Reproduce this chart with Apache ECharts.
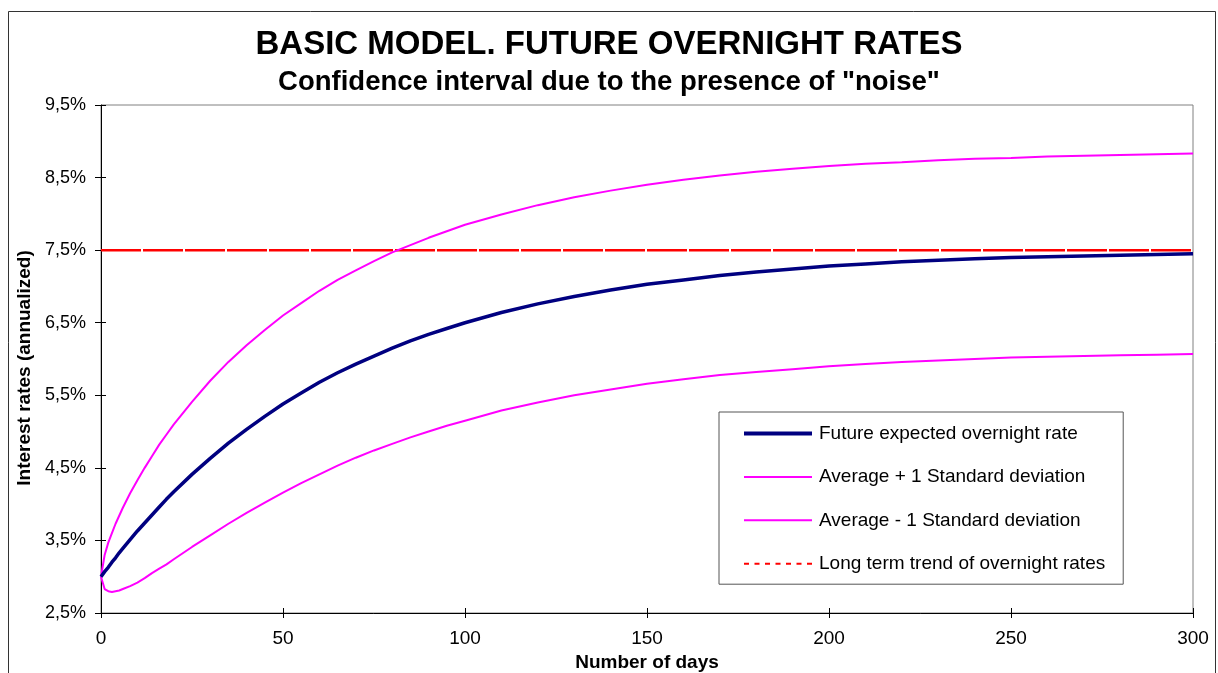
<!DOCTYPE html>
<html>
<head>
<meta charset="utf-8">
<script src="https://cdn.jsdelivr.net/npm/echarts@6/dist/echarts.min.js"></script>
<style>
html,body{margin:0;padding:0;background:#fff;}
#chart{width:1218px;height:673px;}
</style>
</head>
<body>
<div id="chart"></div>
<script>
// ---- data (values in %) ----
const days = [0,1,2,3,4,5,6,8,10,12,14,16,18,20,25,30,35,40,45,50,55,60,65,70,75,80,85,90,95,100,110,120,130,140,150,160,170,180,190,200,210,220,230,240,250,260,270,280,290,300];
const expected = [3.00,3.07,3.13,3.20,3.26,3.33,3.39,3.51,3.63,3.74,3.85,3.96,4.07,4.17,4.41,4.63,4.84,5.03,5.21,5.38,5.53,5.68,5.81,5.93,6.04,6.15,6.25,6.34,6.42,6.50,6.64,6.76,6.86,6.95,7.03,7.09,7.15,7.20,7.24,7.28,7.31,7.34,7.36,7.38,7.40,7.41,7.42,7.43,7.44,7.45];
const upper = [3.00,3.30,3.47,3.60,3.73,3.84,3.95,4.15,4.33,4.50,4.66,4.82,4.96,5.10,5.41,5.70,5.96,6.19,6.40,6.60,6.77,6.94,7.09,7.22,7.35,7.47,7.57,7.67,7.76,7.85,7.99,8.12,8.23,8.32,8.40,8.47,8.53,8.58,8.62,8.66,8.69,8.71,8.74,8.76,8.77,8.79,8.80,8.81,8.82,8.83];
const lower = [3.00,2.83,2.80,2.79,2.80,2.81,2.83,2.87,2.92,2.98,3.05,3.11,3.17,3.24,3.41,3.57,3.73,3.88,4.02,4.16,4.29,4.41,4.53,4.64,4.74,4.83,4.92,5.00,5.08,5.15,5.29,5.40,5.50,5.58,5.66,5.72,5.78,5.82,5.86,5.90,5.93,5.96,5.98,6.00,6.02,6.03,6.04,6.05,6.06,6.07];
const trendDays = [0, 300];
const trend = [7.5, 7.5];
const seriesNames = ['Future expected overnight rate','Average + 1 Standard deviation','Average - 1 Standard deviation','Long term trend of overnight rates'];
const titleText = 'BASIC MODEL. FUTURE OVERNIGHT RATES';
const subtitleText = 'Confidence interval due to the presence of "noise"';
const xName = 'Number of days';
const yName = 'Interest rates (annualized)';

function pairs(xs, ys){ return xs.map((x,i)=>[x, ys[i]]); }

const FONT = '"Liberation Sans", Arial, sans-serif';
const chart = echarts.init(document.getElementById('chart'), null, {renderer:'canvas'});
const yFmt = v => v.toFixed(1).replace('.', ',') + '%';

const iconThick = 'path://M0,0h68v4h-68z';
const iconThin = 'path://M0,0h68v2h-68z';
const iconDash = 'path://M0,0h5v2h-5zM10.5,0h5v2h-5zM21,0h5v2h-5zM31.5,0h5v2h-5zM42,0h5v2h-5zM52.5,0h5v2h-5zM63,0h5v2h-5z';

chart.setOption({
  backgroundColor:'#fff',
  animation:false,
  textStyle:{fontFamily:FONT, color:'#000'},
  graphic:[{
    type:'rect', shape:{x:8.5, y:11.5, width:1207, height:700},
    style:{fill:'none', stroke:'#333', lineWidth:1}, silent:true, z:-1
  }],
  title:[
    {text:titleText, left:'center', top:23, textStyle:{fontFamily:FONT, fontSize:33, fontWeight:'bold', color:'#000'}},
    {text:subtitleText, left:'center', top:63, textStyle:{fontFamily:FONT, fontSize:27.5, fontWeight:'bold', color:'#000'}}
  ],
  grid:{left:101, right:25, top:105, bottom:60, outerBoundsMode:'none', containLabel:false,
        show:true, borderColor:'#808080', borderWidth:1, backgroundColor:'#fff'},
  legend:{
    orient:'vertical', left:719, top:412,
    padding:[12,18,11,25],
    itemWidth:68, itemHeight:16, itemGap:24.4,
    symbolKeepAspect:true,
    backgroundColor:'#fff', borderColor:'#555', borderWidth:1,
    textStyle:{fontFamily:FONT, fontSize:19, color:'#000', padding:[0,0,0,2]},
    data:[
      {name:seriesNames[0], icon:iconThick},
      {name:seriesNames[1], icon:iconThin},
      {name:seriesNames[2], icon:iconThin},
      {name:seriesNames[3], icon:iconDash}
    ]
  },
  xAxis:[{
    type:'value', min:0, max:300, interval:50,
    name:xName, nameLocation:'middle', nameGap:36,
    nameTextStyle:{fontFamily:FONT, fontSize:19, fontWeight:'bold', color:'#000'},
    axisLine:{show:true, onZero:false, lineStyle:{color:'#000', width:1}},
    axisTick:{show:true, inside:false, length:5, lineStyle:{color:'#000'}},
    axisLabel:{fontFamily:FONT, fontSize:19, color:'#000', margin:16},
    splitLine:{show:false}
  },{
    type:'value', min:0, max:300, interval:50, position:'bottom',
    axisLine:{show:false}, axisLabel:{show:false}, splitLine:{show:false},
    axisTick:{show:true, inside:true, length:5, lineStyle:{color:'#000'}}
  }],
  yAxis:[{
    type:'value', min:2.5, max:9.5, interval:1,
    name:yName, nameLocation:'middle', nameGap:63, nameRotate:90,
    nameTextStyle:{fontFamily:FONT, fontSize:19, fontWeight:'bold', color:'#000', padding:[0,18,0,0]},
    axisLine:{show:true, onZero:false, lineStyle:{color:'#000', width:1}},
    axisTick:{show:true, inside:false, length:6, lineStyle:{color:'#000'}},
    axisLabel:{fontFamily:FONT, fontSize:18, color:'#000', margin:15, formatter:yFmt},
    splitLine:{show:false}
  },{
    type:'value', min:2.5, max:9.5, interval:1, position:'left',
    axisLine:{show:false}, axisLabel:{show:false}, splitLine:{show:false},
    axisTick:{show:true, inside:true, length:5, lineStyle:{color:'#000'}}
  }],
  series:[
    {name:seriesNames[0], type:'line', symbol:'none', data:pairs(days, expected),
     lineStyle:{color:'#000080', width:3.5}, itemStyle:{color:'#000080'}, z:4},
    {name:seriesNames[1], type:'line', symbol:'none', data:pairs(days, upper),
     lineStyle:{color:'#FF00FF', width:2}, itemStyle:{color:'#FF00FF'}, z:3},
    {name:seriesNames[2], type:'line', symbol:'none', data:pairs(days, lower),
     lineStyle:{color:'#FF00FF', width:2}, itemStyle:{color:'#FF00FF'}, z:3},
    {name:seriesNames[3], type:'line', symbol:'none', data:pairs(trendDays, trend),
     lineStyle:{color:'#FF0000', width:2.5, type:[40,2]}, itemStyle:{color:'#FF0000'}, z:2}
  ]
});
</script>
</body>
</html>
